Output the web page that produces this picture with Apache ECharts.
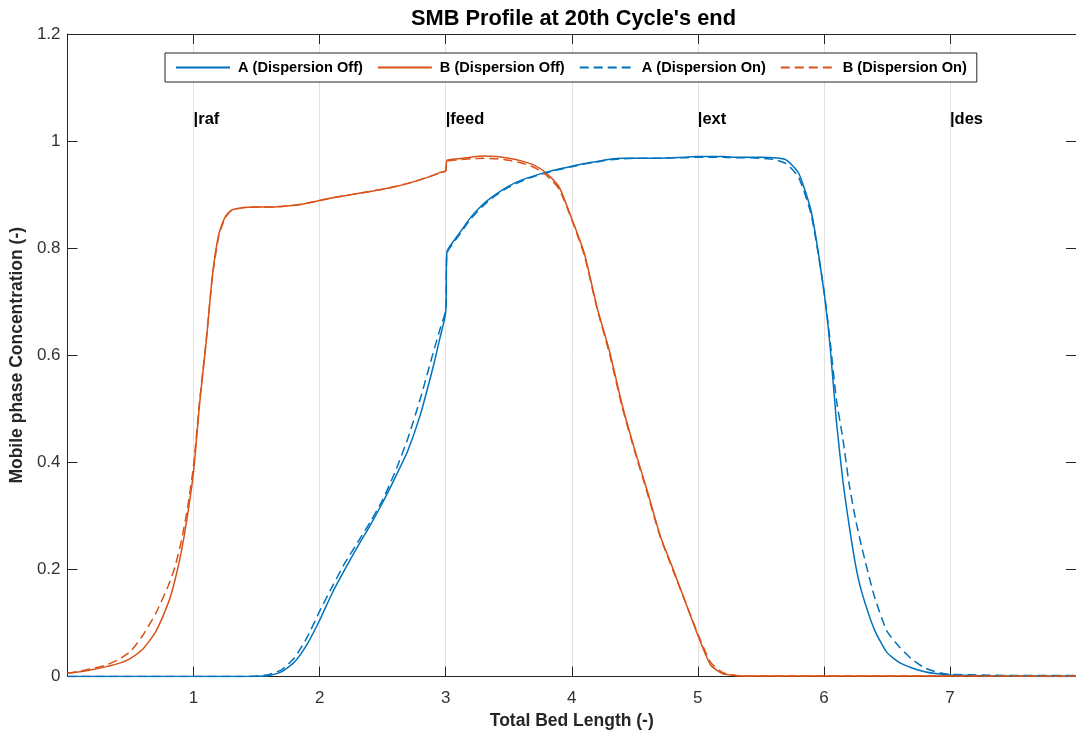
<!DOCTYPE html>
<html>
<head>
<meta charset="utf-8">
<title>SMB Profile</title>
<script src="https://cdn.jsdelivr.net/npm/echarts@6/dist/echarts.min.js"></script>
<style>
  html, body { margin: 0; padding: 0; background: #ffffff; }
  #chart { width: 1076px; height: 738px; }
</style>
</head>
<body>
<div id="chart"></div>
<script>
// Axial position along the SMB unit (shared by all profiles)
const bedLength = [
  0, 0.1, 0.2, 0.3, 0.4, 0.5, 0.6, 0.7, 0.8, 0.85, 0.9, 0.95,
  1.0, 1.05, 1.1, 1.15, 1.2, 1.25, 1.3, 1.4, 1.5, 1.6, 1.7, 1.8, 1.9,
  2.0, 2.1, 2.2, 2.3, 2.4, 2.5, 2.6, 2.7, 2.8, 2.9, 2.95,
  3.0, 3.01, 3.1, 3.2, 3.3, 3.4, 3.5, 3.6, 3.7, 3.8, 3.9,
  4.0, 4.1, 4.2, 4.3, 4.4, 4.5, 4.6, 4.7, 4.8, 4.9,
  5.0, 5.1, 5.2, 5.3, 5.4, 5.5, 5.6, 5.7, 5.8, 5.9,
  6.0, 6.05, 6.1, 6.15, 6.2, 6.25, 6.3, 6.4, 6.5, 6.6, 6.7, 6.8, 6.9,
  7.0, 7.5, 8.0
];

// Component A, no axial dispersion
const concA_off = [
  0, 0, 0, 0, 0, 0, 0, 0, 0, 0, 0, 0,
  0, 0, 0, 0, 0, 0, 0, 0, 0.0005, 0.002, 0.009, 0.027, 0.06,
  0.105, 0.156, 0.2, 0.242, 0.282, 0.325, 0.372, 0.422, 0.49, 0.578, 0.628,
  0.68, 0.793, 0.825, 0.858, 0.883, 0.901, 0.916, 0.927, 0.935, 0.942, 0.948,
  0.953, 0.958, 0.962, 0.966, 0.968, 0.968, 0.968, 0.968, 0.969, 0.970,
  0.971, 0.971, 0.971, 0.970, 0.970, 0.970, 0.969, 0.965, 0.94, 0.868,
  0.72, 0.615, 0.475, 0.367, 0.283, 0.21, 0.158, 0.088, 0.045, 0.026, 0.016, 0.009, 0.005,
  0.003, 0.0005, 0
];

// Component B, no axial dispersion
const concB_off = [
  0.006, 0.009, 0.013, 0.018, 0.024, 0.034, 0.052, 0.084, 0.138, 0.178, 0.23, 0.298,
  0.383, 0.515, 0.625, 0.75, 0.826, 0.858, 0.871, 0.876, 0.877, 0.877, 0.878, 0.88, 0.884,
  0.889, 0.894, 0.898, 0.902, 0.906, 0.910, 0.915, 0.921, 0.928, 0.936, 0.941,
  0.945, 0.964, 0.967, 0.970, 0.972, 0.971, 0.968, 0.963, 0.955, 0.940, 0.914,
  0.855, 0.79, 0.69, 0.607, 0.507, 0.423, 0.346, 0.264, 0.203, 0.14,
  0.077, 0.022, 0.005, 0.002, 0.001, 0.001, 0.001, 0.001, 0.001, 0.001,
  0.001, 0.001, 0.001, 0.001, 0.001, 0.001, 0.001, 0.001, 0.001, 0.001, 0.001, 0.001, 0.001,
  0.001, 0.001, 0.001
];

// Component A, with axial dispersion
const concA_on = [
  0, 0, 0, 0, 0, 0, 0, 0, 0, 0, 0, 0,
  0, 0, 0, 0, 0, 0, 0, 0, 0.001, 0.004, 0.013, 0.035, 0.073,
  0.122, 0.168, 0.212, 0.25, 0.288, 0.33, 0.383, 0.445, 0.52, 0.604, 0.645,
  0.685, 0.79, 0.822, 0.855, 0.88, 0.899, 0.914, 0.925, 0.934, 0.941, 0.947,
  0.952, 0.957, 0.961, 0.965, 0.967, 0.968, 0.968, 0.968, 0.969, 0.969,
  0.970, 0.970, 0.970, 0.969, 0.969, 0.968, 0.966, 0.958, 0.932, 0.862,
  0.722, 0.625, 0.516, 0.445, 0.36, 0.295, 0.242, 0.15, 0.085, 0.055, 0.032, 0.016, 0.008,
  0.004, 0.002, 0.002
];

// Component B, with axial dispersion
const concB_on = [
  0.006, 0.01, 0.015, 0.021, 0.031, 0.047, 0.078, 0.118, 0.17, 0.203, 0.25, 0.312,
  0.395, 0.52, 0.628, 0.748, 0.823, 0.856, 0.87, 0.876, 0.877, 0.877, 0.878, 0.88, 0.884,
  0.889, 0.894, 0.898, 0.902, 0.906, 0.910, 0.915, 0.921, 0.928, 0.936, 0.940,
  0.944, 0.962, 0.965, 0.967, 0.968, 0.967, 0.964, 0.959, 0.951, 0.936, 0.91,
  0.853, 0.786, 0.688, 0.602, 0.503, 0.42, 0.342, 0.262, 0.2, 0.14,
  0.08, 0.027, 0.007, 0.002, 0.001, 0.001, 0.001, 0.001, 0.001, 0.001,
  0.001, 0.001, 0.001, 0.001, 0.001, 0.001, 0.001, 0.001, 0.001, 0.001, 0.001, 0.001, 0.001,
  0.001, 0.001, 0.001
];

// Port positions (raffinate, feed, extract, desorbent) and their captions
const portPositions = [1, 3, 5, 7];
const portLabels = ['|raf', '|feed', '|ext', '|des'];
const portLabelY = 1.04;

const seriesNames = ['A (Dispersion Off)', 'B (Dispersion Off)', 'A (Dispersion On)', 'B (Dispersion On)'];
const xTicks = { min: 0, max: 8, interval: 1 };
const yTicks = { min: 0, max: 1.2, interval: 0.2 };

const BLUE = '#0072BD';
const ORANGE = '#D95319';
const AXIS = '#262626';
const FONT = '"Liberation Sans", Arial, Helvetica, sans-serif';

function pairs(xs, ys) {
  return xs.map((x, i) => [x, ys[i]]);
}

function profile(name, values, color, dashed) {
  return {
    name: name,
    type: 'line',
    data: pairs(bedLength, values),
    symbol: 'none',
    smooth: 0.2,
    lineStyle: { color: color, width: 1.5, type: dashed ? [9, 5] : 'solid' },
    itemStyle: { color: color },
    emphasis: { disabled: true },
    animation: false
  };
}

const chart = echarts.init(document.getElementById('chart'), null, { renderer: 'canvas' });

const commonTick = { show: true, inside: true, length: 10, lineStyle: { color: AXIS, width: 1 } };
const commonLine = { show: true, onZero: false, lineStyle: { color: AXIS, width: 1 } };

chart.setOption({
  backgroundColor: '#ffffff',
  animation: false,
  textStyle: { fontFamily: FONT },
  title: {
    text: "SMB Profile at 20th Cycle's end",
    left: 406,
    top: 3,
    textStyle: { fontFamily: FONT, fontSize: 21.8, fontWeight: 'bold', color: '#000000' }
  },
  legend: {
    data: seriesNames,
    left: 165,
    top: 53,
    orient: 'horizontal',
    backgroundColor: '#ffffff',
    borderColor: AXIS,
    borderWidth: 1,
    padding: [7, 10, 7, 10],
    itemWidth: 54,
    itemHeight: 14,
    itemGap: 14,
    selectedMode: false,
    itemStyle: { opacity: 0, color: 'rgba(0,0,0,0)', borderWidth: 0 },
    textStyle: { fontFamily: FONT, fontSize: 14.6, fontWeight: 'bold', color: '#000000', padding: [0, 0, 0, 3] }
  },
  grid: { left: 67, right: -1, top: 34, bottom: 61.5, containLabel: false },
  xAxis: [
    {
      type: 'value', position: 'bottom',
      min: xTicks.min, max: xTicks.max, interval: xTicks.interval,
      name: 'Total Bed Length (-)',
      nameLocation: 'middle', nameGap: 36,
      nameTextStyle: { fontFamily: FONT, fontSize: 17.5, fontWeight: 'bold', color: AXIS },
      axisLine: commonLine,
      axisTick: commonTick,
      axisLabel: { show: true, fontFamily: FONT, fontSize: 17, color: '#333333', margin: 13, showMinLabel: false, showMaxLabel: false },
      splitLine: { show: true, lineStyle: { color: '#e2e2e2', width: 1 } }
    },
    {
      type: 'value', position: 'top',
      min: xTicks.min, max: xTicks.max, interval: xTicks.interval,
      axisLine: commonLine,
      axisTick: commonTick,
      axisLabel: { show: false },
      splitLine: { show: false }
    }
  ],
  yAxis: [
    {
      type: 'value', position: 'left',
      min: yTicks.min, max: yTicks.max, interval: yTicks.interval,
      name: 'Mobile phase Concentration (-)',
      nameLocation: 'middle', nameGap: 31,
      nameTextStyle: { fontFamily: FONT, fontSize: 17.5, fontWeight: 'bold', color: AXIS },
      axisLine: commonLine,
      axisTick: commonTick,
      axisLabel: { show: true, fontFamily: FONT, fontSize: 17, color: '#333333', margin: 7 },
      splitLine: { show: false }
    },
    {
      type: 'value', position: 'right',
      min: yTicks.min, max: yTicks.max, interval: yTicks.interval,
      axisLine: commonLine,
      axisTick: commonTick,
      axisLabel: { show: false },
      splitLine: { show: false }
    }
  ],
  series: [
    profile(seriesNames[0], concA_off, BLUE, false),
    profile(seriesNames[1], concB_off, ORANGE, false),
    profile(seriesNames[2], concA_on, BLUE, true),
    profile(seriesNames[3], concB_on, ORANGE, true),
    {
      name: 'ports',
      type: 'scatter',
      silent: true,
      symbolSize: 0,
      itemStyle: { opacity: 1, color: '#000000' },
      data: portPositions.map((x, i) => ({ value: [x, portLabelY], label: { formatter: portLabels[i] } })),
      label: {
        show: true,
        position: 'right',
        distance: 0,
        fontFamily: FONT,
        fontSize: 16.5,
        fontWeight: 'bold',
        color: '#000000',
        opacity: 1
      },
      animation: false
    }
  ]
});
</script>
</body>
</html>
